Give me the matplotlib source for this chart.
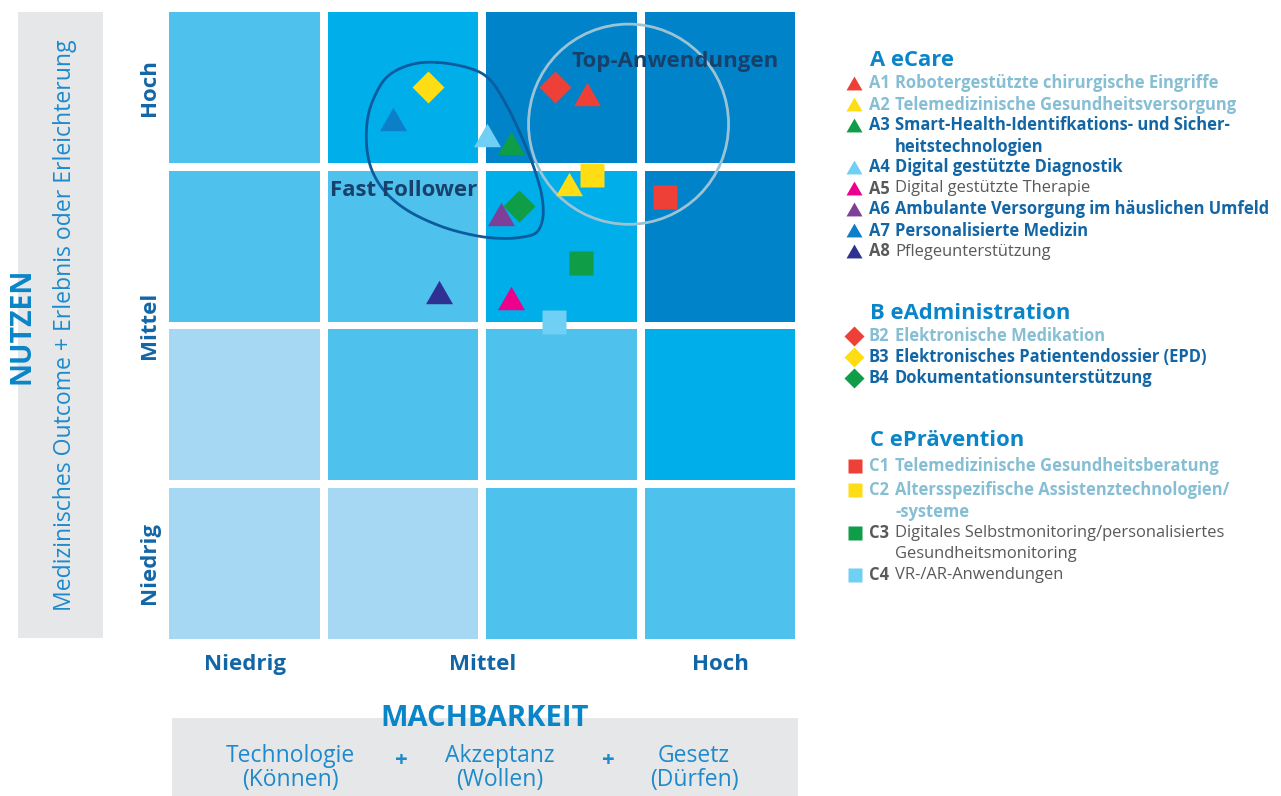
import numpy as np
import matplotlib
matplotlib.use("Agg")
import matplotlib.pyplot as plt
from matplotlib.patches import Rectangle, Ellipse

plt.rcParams['font.family'] = ['Open Sans', 'DejaVu Sans']

# ---------------- data ----------------
level_labels = ["Niedrig", "Mittel", "Hoch"]
level_ticks = [0.5, 2.0, 3.5]

# cell shade level (rows from bottom = Niedrig to top = Hoch), columns Niedrig..Hoch
cell_levels = [
    [0, 0, 1, 1],
    [0, 1, 1, 2],
    [1, 1, 2, 3],
    [1, 2, 3, 3],
]
cell_palette = ["#A7D8F3", "#4FC1ED", "#00AEEA", "#0083C9"]

codes = ["A1", "A2", "A3", "A4", "A5", "A6", "A7", "A8",
         "B2", "B3", "B4",
         "C1", "C2", "C3", "C4"]
machbarkeit = [2.66, 2.55, 2.18, 2.03, 2.18, 2.12, 1.44, 1.73,
               2.46, 1.66, 2.23,
               3.15, 2.69, 2.62, 2.45]
nutzen = [3.46, 2.89, 3.15, 3.20, 2.17, 2.70, 3.30, 2.21,
          3.50, 3.50, 2.75,
          2.81, 2.95, 2.39, 2.02]
colors = ["#EE4036", "#FFDD15", "#0F9D48", "#6FCFF5", "#EC008C", "#7E3F98", "#0C7FC8", "#2E3192",
          "#EE4036", "#FFDD15", "#0F9D48",
          "#EE4036", "#FFDD15", "#0F9D48", "#6FCFF5"]

names = {
    "A1": ["Robotergestützte chirurgische Eingriffe"],
    "A2": ["Telemedizinische Gesundheitsversorgung"],
    "A3": ["Smart-Health-Identifkations- und Sicher-", "heitstechnologien"],
    "A4": ["Digital gestützte Diagnostik"],
    "A5": ["Digital gestützte Therapie"],
    "A6": ["Ambulante Versorgung im häuslichen Umfeld"],
    "A7": ["Personalisierte Medizin"],
    "A8": ["Pflegeunterstützung"],
    "B2": ["Elektronische Medikation"],
    "B3": ["Elektronisches Patientendossier (EPD)"],
    "B4": ["Dokumentationsunterstützung"],
    "C1": ["Telemedizinische Gesundheitsberatung"],
    "C2": ["Altersspezifische Assistenztechnologien/", "-systeme"],
    "C3": ["Digitales Selbstmonitoring/personalisiertes", "Gesundheitsmonitoring"],
    "C4": ["VR-/AR-Anwendungen"],
}
# text style class for each code: 'light', 'dark', 'gray'
text_style = {"A1": "light", "A2": "light", "A3": "dark", "A4": "dark", "A5": "gray",
              "A6": "dark", "A7": "dark", "A8": "gray",
              "B2": "light", "B3": "dark", "B4": "dark",
              "C1": "light", "C2": "light", "C3": "gray", "C4": "gray"}
groups = [("A eCare", ["A1", "A2", "A3", "A4", "A5", "A6", "A7", "A8"]),
          ("B eAdministration", ["B2", "B3", "B4"]),
          ("C ePrävention", ["C1", "C2", "C3", "C4"])]

# annotation shapes (data units)
fast_follower_outline = [
    (1.715, 3.658), (1.923, 3.620), (2.050, 3.547), (2.156, 3.383), (2.238, 3.213),
    (2.301, 3.062), (2.345, 2.936), (2.377, 2.810), (2.383, 2.683), (2.345, 2.588),
    (2.257, 2.557), (2.131, 2.548), (1.967, 2.564), (1.752, 2.620), (1.544, 2.715),
    (1.399, 2.829), (1.311, 2.961), (1.273, 3.106), (1.273, 3.276), (1.311, 3.421),
    (1.399, 3.566), (1.544, 3.642)]
top_circle_center = (2.923, 3.268)
top_circle_diameter = 1.262

# ---------------- styling ----------------
W, H = 1281, 796
fig = plt.figure(figsize=(W / 100, H / 100), dpi=100)
fig.patch.set_facecolor("white")

def fx(x):
    return x / W

def fy(y):
    return 1 - y / H

BLUE = "#0A85C8"
MIDBLUE = "#1E8ACB"
DARK = "#1366A6"
LIGHT = "#86BED4"
GRAY = "#58595B"
NAVY = "#17406A"
BOXGRAY = "#E6E7E8"

style_color = {"light": LIGHT, "dark": DARK, "gray": GRAY}

def marker_for(code):
    if code.startswith("A"):
        return "tri"
    if code.startswith("B"):
        return "D"
    return "s"

tri_path = [(0, 1), (-1.15, -1), (1.15, -1), (0, 1)]

# background boxes
fig.add_artist(Rectangle((fx(18), fy(638)), fx(85), 626 / H, transform=fig.transFigure,
                         facecolor=BOXGRAY, edgecolor="none", zorder=0))
fig.add_artist(Rectangle((fx(172), 0), fx(626), 78 / H, transform=fig.transFigure,
                         facecolor=BOXGRAY, edgecolor="none", zorder=0))

# main axes
ax = fig.add_axes([fx(165.25), fy(642.6), fx(634), 634.5 / H])
ax.set_xlim(0, 4)
ax.set_ylim(0, 4)
for s in ax.spines.values():
    s.set_visible(False)
ax.set_facecolor("none")

inset = 0.024
for r, row in enumerate(cell_levels):
    for c, lev in enumerate(row):
        ax.add_patch(Rectangle((c + inset, r + inset), 1 - 2 * inset, 1 - 2 * inset,
                               facecolor=cell_palette[lev], edgecolor="none", zorder=1))

# fast follower outline (closed Catmull-Rom spline)
P = np.asarray(fast_follower_outline)
N = len(P)
segs = []
t = np.linspace(0, 1, 24, endpoint=False)[:, None]
for i in range(N):
    p0, p1, p2, p3 = P[(i - 1) % N], P[i], P[(i + 1) % N], P[(i + 2) % N]
    segs.append(0.5 * (2 * p1 + (-p0 + p2) * t + (2 * p0 - 5 * p1 + 4 * p2 - p3) * t ** 2
                       + (-p0 + 3 * p1 - 3 * p2 + p3) * t ** 3))
curve = np.vstack(segs + [P[:1]])
ax.plot(curve[:, 0], curve[:, 1], color="#0B5C9E", lw=2.0, zorder=3, solid_capstyle="round")

ax.add_patch(Ellipse(top_circle_center, top_circle_diameter, top_circle_diameter,
                     facecolor="none", edgecolor="#9CC3D5", lw=2.0, zorder=3))

# data markers
for code, x, y, col in zip(codes, machbarkeit, nutzen, colors):
    m = marker_for(code)
    if m == "tri":
        ax.plot(x, y, marker=tri_path, ms=19.4, color=col, mec="none", ls="none", zorder=4)
    elif m == "D":
        ax.plot(x, y, marker="D", ms=16.8, color=col, mec="none", ls="none", zorder=4)
    else:
        ax.plot(x, y, marker="s", ms=17.3, color=col, mec="none", ls="none", zorder=4)

ax.text(1.503, 2.852, "Fast Follower", ha="center", va="center", fontsize=16,
        fontweight="bold", color=NAVY, zorder=5)
ax.text(3.22, 3.665, "Top-Anwendungen", ha="center", va="center", fontsize=16,
        fontweight="bold", color=NAVY, zorder=5)

ax.set_xticks(level_ticks, level_labels)
ax.set_yticks(level_ticks, level_labels)
ax.tick_params(length=0, labelsize=16, labelcolor=DARK)
ax.tick_params(axis="x", pad=8)
ax.tick_params(axis="y", pad=4)
for lab in ax.get_xticklabels() + ax.get_yticklabels():
    lab.set_fontweight("bold")
for lab in ax.get_yticklabels():
    lab.set_rotation(90)
    lab.set_va("center")

# axis titles
fig.text(fx(22), fy(326), "NUTZEN", rotation=90, ha="center", va="center",
         fontsize=20.5, fontweight="bold", color=BLUE)
fig.text(fx(65), fy(325), "Medizinisches Outcome + Erlebnis oder Erleichterung", rotation=90,
         ha="center", va="center", fontsize=16.6, color=MIDBLUE)
fig.text(fx(485), fy(719), "MACHBARKEIT", ha="center", va="center",
         fontsize=21, fontweight="bold", color=BLUE)
for xc, l1, l2 in [(290, "Technologie", "(Können)"), (500, "Akzeptanz", "(Wollen)"),
                   (694, "Gesetz", "(Dürfen)")]:
    fig.text(fx(xc), fy(756), l1, ha="center", va="center", fontsize=16.5, color=MIDBLUE)
    fig.text(fx(xc), fy(780), l2, ha="center", va="center", fontsize=16.5, color=MIDBLUE)
for xc in (401, 608):
    fig.text(fx(xc), fy(760), "+", ha="center", va="center", fontsize=16,
             fontweight="bold", color=MIDBLUE)

# legend (manual layout)
lax = fig.add_axes([0, 0, 1, 1])
lax.set_xlim(0, W)
lax.set_ylim(H, 0)
lax.axis("off")
lax.set_zorder(-1)

color_of = dict(zip(codes, colors))
heading_y = [60.5, 313.3, 440.7]
first_item_gap = 23.0
line_h = 21.0
extra_gap = {"C2": 3.0, "C1": 2.0}
for (title, items), hy in zip(groups, heading_y):
    lax.text(870, hy, title, ha="left", va="center", fontsize=15.8, fontweight="bold", color=BLUE)
    y = hy + first_item_gap
    for code in items:
        y += extra_gap.get(code, 0)
        st = text_style[code]
        m = marker_for(code)
        if m == "tri":
            lax.plot(853.5, y - 1, marker=tri_path, ms=11.5, color=color_of[code], mec="none", ls="none")
        elif m == "D":
            lax.plot(853.5, y, marker="D", ms=10, color=color_of[code], mec="none", ls="none")
        else:
            lax.plot(855, y, marker="s", ms=9.5, color=color_of[code], mec="none", ls="none")
        code_col = GRAY if st == "gray" else style_color[st]
        lax.text(869, y, code, ha="left", va="center", fontsize=11.9, fontweight="bold", color=code_col)
        for k, ln in enumerate(names[code]):
            lax.text(895, y, ln, ha="left", va="center", fontsize=11.9,
                     fontweight="normal" if st == "gray" else "bold", color=style_color[st])
            if k < len(names[code]) - 1:
                y += line_h + (1.5 if code == "C2" else 0)
        y += line_h

fig.savefig("out.png", dpi=100, facecolor="white")
